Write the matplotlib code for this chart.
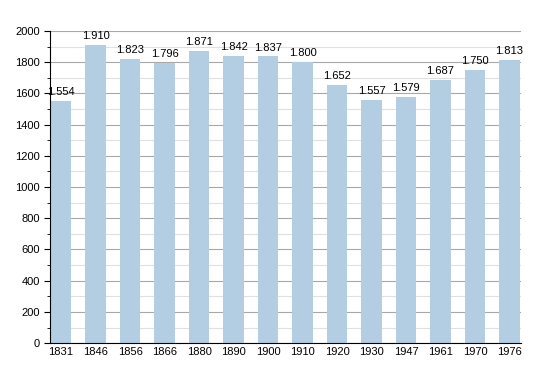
import matplotlib.pyplot as plt
from matplotlib.ticker import MultipleLocator

plt.rcParams['font.family'] = ['Liberation Sans', 'DejaVu Sans']

years = ['1831', '1846', '1856', '1866', '1880', '1890', '1900', '1910',
         '1920', '1930', '1947', '1961', '1970', '1976']
population = [1554, 1910, 1823, 1796, 1871, 1842, 1837, 1800,
              1652, 1557, 1579, 1687, 1750, 1813]

fig = plt.figure(figsize=(5.5, 3.73), dpi=100)
ax = fig.add_axes([0.091, 0.080, 0.856, 0.837])

x = range(len(years))
ax.bar(x, population, width=0.6, color='#b3cde3', zorder=2)

for i, v in zip(x, population):
    ax.text(i, v + 25, '{:,}'.format(v).replace(',', '.'),
            ha='center', va='bottom', fontsize=8)

ax.set_xlim(-0.32, 13.33)
ax.set_ylim(0, 2000)
ax.set_xticks(list(x))
ax.set_xticklabels(years, fontsize=8)
ax.yaxis.set_major_locator(MultipleLocator(200))
ax.yaxis.set_minor_locator(MultipleLocator(100))
ax.tick_params(axis='y', labelsize=8, length=4)
ax.tick_params(axis='y', which='minor', length=2)
ax.tick_params(axis='x', length=0, pad=3)
ax.grid(axis='y', which='major', color='#a8a8a8', lw=0.8, zorder=0)
ax.grid(axis='y', which='minor', color='#e0e0e0', lw=0.8, zorder=0)
for s in ['top', 'right']:
    ax.spines[s].set_visible(False)

fig.savefig('out.png', dpi=100)
